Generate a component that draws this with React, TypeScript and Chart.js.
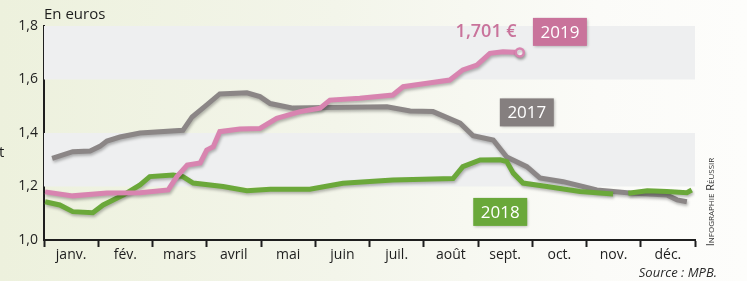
import React, { useEffect, useRef } from "react";
import { Chart, registerables } from "chart.js";

Chart.register(...registerables);

const months = ["janv.", "fév.", "mars", "avril", "mai", "juin", "juil.", "août", "sept.", "oct.", "nov.", "déc."];
const yTicks = [1.0, 1.2, 1.4, 1.6, 1.8];

// x positions are in months from 1 January (0..12)
const x2017 = [0.15, 0.53, 0.85, 1.03, 1.16, 1.4, 1.77, 2.56, 2.73, 3.0, 3.24, 3.74, 3.98, 4.17, 4.59, 5.22, 6.32, 6.75, 7.17, 7.67, 7.91, 8.28, 8.53, 8.9, 9.14, 9.57, 10.19, 10.8, 11.48, 11.67, 11.85];
const v2017 = [1.305, 1.33, 1.333, 1.35, 1.37, 1.385, 1.4, 1.41, 1.46, 1.505, 1.546, 1.55, 1.536, 1.51, 1.493, 1.495, 1.498, 1.482, 1.48, 1.437, 1.39, 1.374, 1.31, 1.274, 1.232, 1.218, 1.187, 1.176, 1.168, 1.15, 1.143];

const x2018 = [0.02, 0.29, 0.53, 0.9, 1.09, 1.46, 1.77, 1.95, 2.38, 2.56, 2.75, 3.3, 3.74, 4.17, 4.9, 5.51, 6.43, 7.54, 7.72, 8.04, 8.41, 8.53, 8.65, 8.83, 9.27, 9.88, 10.49, 10.62, 10.77, 11.12, 11.48, 11.85, 11.94];
const v2018: (number | null)[] = [1.143, 1.131, 1.106, 1.102, 1.131, 1.168, 1.206, 1.237, 1.243, 1.237, 1.213, 1.2, 1.184, 1.19, 1.19, 1.212, 1.224, 1.23, 1.274, 1.299, 1.3, 1.293, 1.25, 1.213, 1.2, 1.181, 1.172, null, 1.175, 1.184, 1.181, 1.177, 1.187];

const x2019 = [0.02, 0.53, 1.16, 1.77, 2.29, 2.45, 2.64, 2.88, 3.0, 3.12, 3.24, 3.61, 3.98, 4.29, 4.72, 5.09, 5.27, 5.82, 6.43, 6.62, 7.06, 7.48, 7.72, 7.98, 8.22, 8.46, 8.77];
const v2019 = [1.18, 1.165, 1.176, 1.177, 1.187, 1.237, 1.28, 1.288, 1.336, 1.349, 1.405, 1.415, 1.417, 1.455, 1.48, 1.493, 1.523, 1.53, 1.542, 1.573, 1.586, 1.598, 1.636, 1.654, 1.698, 1.704, 1.701];

const lastPrice = "1,701 €";

const GRAY = "#8b8686";
const GREEN = "#6ba83a";
const PINK = "#d884b0";
const FONT = "'Open Sans', sans-serif";

const toPoints = (xs: number[], vs: (number | null)[]) => xs.map((x, i) => ({ x, y: vs[i] }));

const bandsPlugin = {
  id: "bands",
  beforeDatasetsDraw(chart: any) {
    const { ctx, chartArea, scales } = chart;
    const y = scales.y;
    ctx.save();
    ctx.fillStyle = "#eeeff0";
    [[1.8, 1.6], [1.4, 1.2]].forEach(([a, b]) => {
      const t = y.getPixelForValue(a);
      const bt = y.getPixelForValue(b);
      ctx.fillRect(chartArea.left, t, chartArea.right - chartArea.left, bt - t);
    });
    ctx.restore();
  },
};

const shadowPlugin = {
  id: "lineShadow",
  beforeDatasetDraw(chart: any) {
    const ctx = chart.ctx;
    ctx.save();
    ctx.shadowColor = "rgba(0,0,0,0.28)";
    ctx.shadowBlur = 3;
    ctx.shadowOffsetX = 1;
    ctx.shadowOffsetY = 2;
  },
  afterDatasetDraw(chart: any) {
    chart.ctx.restore();
  },
};

const labelsPlugin = {
  id: "seriesLabels",
  afterDatasetsDraw(chart: any) {
    const { ctx, scales } = chart;
    const xs = scales.x;
    const ys = scales.y;
    const box = (label: string, mx: number, v: number, color: string) => {
      const cx = xs.getPixelForValue(mx);
      const cy = ys.getPixelForValue(v);
      const w = 54;
      const h = 28;
      ctx.save();
      ctx.shadowColor = "rgba(0,0,0,0.3)";
      ctx.shadowBlur = 3;
      ctx.shadowOffsetX = 1;
      ctx.shadowOffsetY = 1;
      ctx.fillStyle = color;
      ctx.fillRect(cx - w / 2, cy - h / 2, w, h);
      ctx.restore();
      ctx.save();
      ctx.fillStyle = "#ffffff";
      ctx.font = `500 17px ${FONT}`;
      ctx.textAlign = "center";
      ctx.textBaseline = "middle";
      ctx.fillText(label, cx, cy + 1);
      ctx.restore();
    };
    box("2019", 9.51, 1.778, "#c9739b");
    box("2017", 8.9, 1.477, "#857f7f");
    box("2018", 8.41, 1.105, "#6aa83a");
    ctx.save();
    ctx.fillStyle = "#c9739b";
    ctx.font = `600 18px ${FONT}`;
    ctx.textAlign = "center";
    ctx.textBaseline = "middle";
    ctx.fillText(lastPrice, xs.getPixelForValue(8.15), ys.getPixelForValue(1.778));
    ctx.restore();
  },
};

export default function App() {
  const ref = useRef<HTMLCanvasElement | null>(null);
  useEffect(() => {
    if (!ref.current) return;
    const chart = new Chart(ref.current, {
      type: "line",
      data: {
        datasets: [
          {
            label: "2019",
            data: toPoints(x2019, v2019) as any,
            borderColor: PINK,
            borderWidth: 5,
            pointRadius: (c: any) => (c.dataIndex === x2019.length - 1 ? 4 : 0),
            pointBackgroundColor: "#ffffff",
            pointBorderColor: PINK,
            pointBorderWidth: 2.5,
            tension: 0,
            order: 1,
          },
          {
            label: "2018",
            data: toPoints(x2018, v2018) as any,
            borderColor: GREEN,
            borderWidth: 5,
            pointRadius: 0,
            tension: 0,
            spanGaps: false,
            order: 2,
          },
          {
            label: "2017",
            data: toPoints(x2017, v2017) as any,
            borderColor: GRAY,
            borderWidth: 5,
            pointRadius: 0,
            tension: 0,
            order: 3,
          },
        ],
      },
      options: {
        animation: false,
        responsive: false,
        events: [],
        layout: { padding: { left: 0, top: 26, right: 52, bottom: 0 } },
        plugins: { legend: { display: false }, tooltip: { enabled: false } },
        scales: {
          x: {
            type: "linear",
            min: 0,
            max: 12,
            afterFit: (s: any) => {
              s.height = 63;
            },
            afterBuildTicks: (s: any) => {
              const t: any[] = [];
              for (let i = 0; i <= 24; i++) t.push({ value: i / 2 });
              s.ticks = t;
            },
            border: { display: true, color: "#1e1e1e", width: 2 },
            grid: {
              drawOnChartArea: false,
              drawTicks: true,
              tickLength: 7,
              tickWidth: 2,
              tickColor: (c: any) => (c.tick && Number.isInteger(c.tick.value) ? "#1e1e1e" : "rgba(0,0,0,0)"),
            },
            ticks: {
              autoSkip: false,
              maxRotation: 0,
              padding: 0,
              color: "#1e1e1e",
              font: { family: FONT, size: 14, weight: 500 as any },
              callback: (v: any) => (Number.isInteger(v) ? "" : months[Math.floor(v)]),
            },
          },
          y: {
            min: 1.0,
            max: 1.8,
            afterFit: (s: any) => {
              s.width = 44;
            },
            afterBuildTicks: (s: any) => {
              s.ticks = yTicks.map((v) => ({ value: v }));
            },
            border: { display: true, color: "#1e1e1e", width: 2 },
            grid: { drawOnChartArea: false, drawTicks: false },
            ticks: {
              padding: 6,
              color: "#1e1e1e",
              font: { family: FONT, size: 14, weight: 500 as any },
              callback: (v: any) => Number(v).toFixed(1).replace(".", ","),
            },
          },
        },
      },
      plugins: [bandsPlugin, shadowPlugin, labelsPlugin],
    });
    return () => chart.destroy();
  }, []);

  return (
    <div
      style={{
        position: "absolute",
        left: 0,
        top: 0,
        width: 747,
        height: 303,
        overflow: "hidden",
        background: "#ffffff",
        fontFamily: FONT,
      }}
    >
      <div
        style={{
          position: "absolute",
          left: 0,
          top: 0,
          width: 747,
          height: 281,
          background: "linear-gradient(to right, #edf1dd 0%, #f3f5ea 45%, #fbfbf8 80%, #fdfdfb 100%)",
        }}
      />
      <canvas ref={ref} width={747} height={303} style={{ position: "absolute", left: 0, top: 0 }} />
      <div style={{ position: "absolute", left: 44, top: 3, fontSize: 15, fontWeight: 500, color: "#1e1e1e", lineHeight: "20px" }}>En euros</div>
      <div style={{ position: "absolute", left: -1, top: 141, fontSize: 15, fontWeight: 500, color: "#1e1e1e", lineHeight: "20px" }}>t</div>
      <div
        style={{
          position: "absolute",
          right: 30,
          top: 263,
          fontSize: 13,
          fontStyle: "italic",
          color: "#2a2a2a",
          lineHeight: "18px",
        }}
      >
        Source : MPB.
      </div>
      <div
        style={{
          position: "absolute",
          left: 709,
          top: 202,
          transform: "translate(-50%, -50%) rotate(-90deg)",
          fontSize: 11,
          fontVariant: "small-caps",
          color: "#333333",
          whiteSpace: "nowrap",
          lineHeight: "11px",
        }}
      >
        Infographie Réussir
      </div>
    </div>
  );
}
